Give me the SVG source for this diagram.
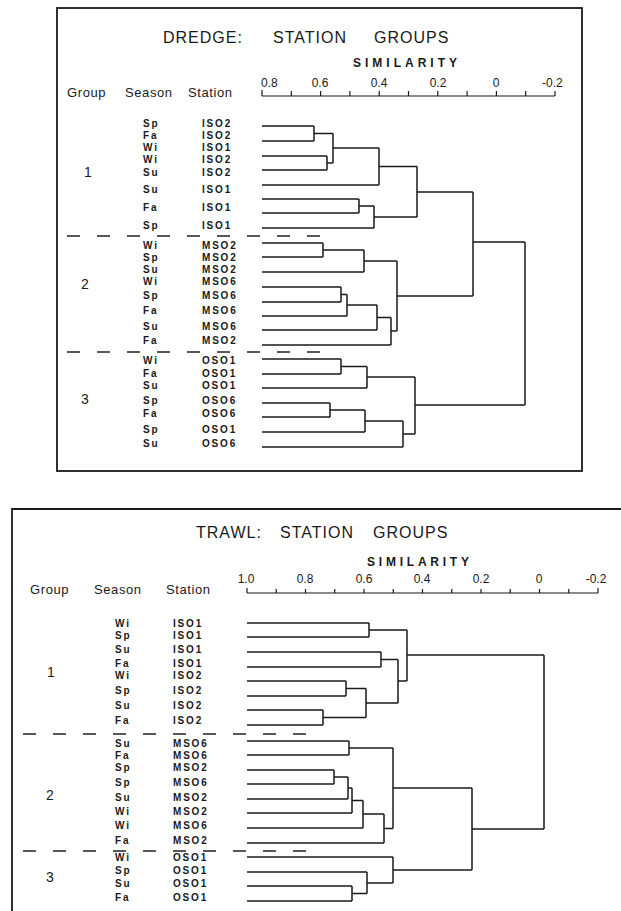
<svg xmlns="http://www.w3.org/2000/svg" width="621" height="911" viewBox="0 0 621 911">
<style>
.t{font-family:"Liberation Sans",Arial,sans-serif;fill:#1a1a1a}
.title{font-size:16px;letter-spacing:1px}
.sim{font-size:12px;font-weight:bold}
.ax{font-size:12px}
.hd{font-size:13px;letter-spacing:0.6px}
.rl{font-size:10px;font-weight:bold;letter-spacing:1.8px}
.gn{font-size:14px}
.ln{stroke:#1a1a1a;stroke-width:1.5;fill:none}
.tk{stroke:#1a1a1a;stroke-width:1.2;fill:none}
.dash{stroke:#222;stroke-width:1.3;stroke-dasharray:13 17;fill:none}
.frame{stroke:#1a1a1a;stroke-width:1.8;fill:none}
</style>
<rect width="621" height="911" fill="#fff"/>

<!-- ================= DREDGE PANEL ================= -->
<g id="dredge-panel">
<rect class="frame" x="57" y="8" width="525" height="463"/>
<text class="t title" y="43"><tspan x="163">DREDGE:</tspan><tspan x="273">STATION</tspan><tspan x="374">GROUPS</tspan></text>
<text class="t sim" x="353" y="67" textLength="104" lengthAdjust="spacing">SIMILARITY</text>
<g id="dredge-axis">
<path class="tk" d="M262 96H555M262 96V90M291.3 96V91M320.6 96V91M349.9 96V91M379.2 96V91M408.5 96V91M437.8 96V91M467.1 96V91M496.4 96V91M525.7 96V91M555 96V91"/>
<text class="t ax" x="261" y="87">0.8</text>
<text class="t ax" x="320" y="87" text-anchor="middle">0.6</text>
<text class="t ax" x="379" y="87" text-anchor="middle">0.4</text>
<text class="t ax" x="438" y="87" text-anchor="middle">0.2</text>
<text class="t ax" x="496" y="87" text-anchor="middle">0</text>
<text class="t ax" x="542" y="87">-0.2</text>
</g>
<text class="t hd" x="67" y="97">Group</text>
<text class="t hd" x="125" y="97">Season</text>
<text class="t hd" x="188" y="97">Station</text>

<text class="t gn" x="84" y="177">1</text>
<text class="t gn" x="81" y="289">2</text>
<text class="t gn" x="81" y="404">3</text>

<path class="dash" d="M67 236H321M67 352H321"/>

<g id="d-r1"><text class="t rl" x="143" y="127">Sp</text><text class="t rl" x="202" y="127">ISO2</text></g>
<g id="d-r2"><text class="t rl" x="143" y="139">Fa</text><text class="t rl" x="202" y="139">ISO2</text></g>
<g id="d-r3"><text class="t rl" x="143" y="151">Wi</text><text class="t rl" x="202" y="151">ISO1</text></g>
<g id="d-r4"><text class="t rl" x="143" y="163">Wi</text><text class="t rl" x="202" y="163">ISO2</text></g>
<g id="d-r5"><text class="t rl" x="143" y="176">Su</text><text class="t rl" x="202" y="176">ISO2</text></g>
<g id="d-r6"><text class="t rl" x="143" y="193">Su</text><text class="t rl" x="202" y="193">ISO1</text></g>
<g id="d-r7"><text class="t rl" x="143" y="211">Fa</text><text class="t rl" x="202" y="211">ISO1</text></g>
<g id="d-r8"><text class="t rl" x="143" y="229">Sp</text><text class="t rl" x="202" y="229">ISO1</text></g>

<g id="d-r9"><text class="t rl" x="143" y="249">Wi</text><text class="t rl" x="202" y="249">MSO2</text></g>
<g id="d-r10"><text class="t rl" x="143" y="261">Sp</text><text class="t rl" x="202" y="261">MSO2</text></g>
<g id="d-r11"><text class="t rl" x="143" y="273">Su</text><text class="t rl" x="202" y="273">MSO2</text></g>
<g id="d-r12"><text class="t rl" x="143" y="285">Wi</text><text class="t rl" x="202" y="285">MSO6</text></g>
<g id="d-r13"><text class="t rl" x="143" y="299">Sp</text><text class="t rl" x="202" y="299">MSO6</text></g>
<g id="d-r14"><text class="t rl" x="143" y="314">Fa</text><text class="t rl" x="202" y="314">MSO6</text></g>
<g id="d-r15"><text class="t rl" x="143" y="330">Su</text><text class="t rl" x="202" y="330">MSO6</text></g>
<g id="d-r16"><text class="t rl" x="143" y="344">Fa</text><text class="t rl" x="202" y="344">MSO2</text></g>

<g id="d-r17"><text class="t rl" x="143" y="364">Wi</text><text class="t rl" x="202" y="364">OSO1</text></g>
<g id="d-r18"><text class="t rl" x="143" y="377">Fa</text><text class="t rl" x="202" y="377">OSO1</text></g>
<g id="d-r19"><text class="t rl" x="143" y="389">Su</text><text class="t rl" x="202" y="389">OSO1</text></g>
<g id="d-r20"><text class="t rl" x="143" y="404">Sp</text><text class="t rl" x="202" y="404">OSO6</text></g>
<g id="d-r21"><text class="t rl" x="143" y="417">Fa</text><text class="t rl" x="202" y="417">OSO6</text></g>
<g id="d-r22"><text class="t rl" x="143" y="433">Sp</text><text class="t rl" x="202" y="433">OSO1</text></g>
<g id="d-r23"><text class="t rl" x="143" y="447">Su</text><text class="t rl" x="202" y="447">OSO6</text></g>
</g>

<g id="dredge-connectors">
<path class="ln" d="M262 126H314M262 141H314M262 156H327M262 170H327M262 185H379M262 199H359M262 213H359M262 228H374M262 243H323M262 257H323M262 272H364M262 287H341M262 302H341M262 316H347M262 330H377M262 345H391M262 359H341M262 374H341M262 388H367M262 403H330M262 417H330M262 432H365M262 447H403"/>
<path class="ln" d="M314 126V141M314 133.5H333M327 156V170M327 163H333M333 133.5V163M333 148H379M379 148V185M379 166.5H417M359 199V213M359 206H374M374 206V228M374 217H417M417 166.5V217M417 192H473"/>
<path class="ln" d="M323 243V257M323 250H364M364 250V272M364 261H397M341 287V302M341 294.5H347M347 294.5V316M347 305H377M377 305V330M377 317.5H391M391 317.5V345M391 331H397M397 261V331M397 296H473M473 192V296M473 242H525"/>
<path class="ln" d="M341 359V374M341 366.5H367M367 366.5V388M367 377H415M330 403V417M330 410H365M365 410V432M365 421H403M403 421V447M403 434H415M415 377V434M415 405H525M525 242V405"/>
</g>

<!-- ================= TRAWL PANEL ================= -->
<g id="trawl-panel">
<path class="frame" d="M12 911V509H621"/>
<text class="t title" y="538"><tspan x="196">TRAWL:</tspan><tspan x="280">STATION</tspan><tspan x="373">GROUPS</tspan></text>
<text class="t sim" x="367" y="566" textLength="102" lengthAdjust="spacing">SIMILARITY</text>
<g id="trawl-axis">
<path class="tk" d="M247 593H598M247 593V588M276.25 593V589M305.5 593V589M334.75 593V589M364 593V589M393.25 593V589M422.5 593V589M451.75 593V589M481 593V589M510.25 593V589M539.5 593V589M568.75 593V589M598 593V588"/>
<text class="t ax" x="246" y="583" text-anchor="middle">1.0</text>
<text class="t ax" x="305" y="583" text-anchor="middle">0.8</text>
<text class="t ax" x="364" y="583" text-anchor="middle">0.6</text>
<text class="t ax" x="422" y="583" text-anchor="middle">0.4</text>
<text class="t ax" x="481" y="583" text-anchor="middle">0.2</text>
<text class="t ax" x="539" y="583" text-anchor="middle">0</text>
<text class="t ax" x="596" y="583" text-anchor="middle">-0.2</text>
</g>
<text class="t hd" x="30" y="594">Group</text>
<text class="t hd" x="94" y="594">Season</text>
<text class="t hd" x="166" y="594">Station</text>

<text class="t gn" x="47" y="677">1</text>
<text class="t gn" x="46" y="800">2</text>
<text class="t gn" x="46" y="882">3</text>

<path class="dash" d="M23 734H308M23 851H308"/>

<g id="t-r1"><text class="t rl" x="115" y="627">Wi</text><text class="t rl" x="173" y="627">ISO1</text></g>
<g id="t-r2"><text class="t rl" x="115" y="639">Sp</text><text class="t rl" x="173" y="639">ISO1</text></g>
<g id="t-r3"><text class="t rl" x="115" y="653">Su</text><text class="t rl" x="173" y="653">ISO1</text></g>
<g id="t-r4"><text class="t rl" x="115" y="667">Fa</text><text class="t rl" x="173" y="667">ISO1</text></g>
<g id="t-r5"><text class="t rl" x="115" y="679">Wi</text><text class="t rl" x="173" y="679">ISO2</text></g>
<g id="t-r6"><text class="t rl" x="115" y="694">Sp</text><text class="t rl" x="173" y="694">ISO2</text></g>
<g id="t-r7"><text class="t rl" x="115" y="709">Su</text><text class="t rl" x="173" y="709">ISO2</text></g>
<g id="t-r8"><text class="t rl" x="115" y="724">Fa</text><text class="t rl" x="173" y="724">ISO2</text></g>

<g id="t-r9"><text class="t rl" x="115" y="747">Su</text><text class="t rl" x="173" y="747">MSO6</text></g>
<g id="t-r10"><text class="t rl" x="115" y="759">Fa</text><text class="t rl" x="173" y="759">MSO6</text></g>
<g id="t-r11"><text class="t rl" x="115" y="771">Sp</text><text class="t rl" x="173" y="771">MSO2</text></g>
<g id="t-r12"><text class="t rl" x="115" y="786">Sp</text><text class="t rl" x="173" y="786">MSO6</text></g>
<g id="t-r13"><text class="t rl" x="115" y="801">Su</text><text class="t rl" x="173" y="801">MSO2</text></g>
<g id="t-r14"><text class="t rl" x="115" y="815">Wi</text><text class="t rl" x="173" y="815">MSO2</text></g>
<g id="t-r15"><text class="t rl" x="115" y="829">Wi</text><text class="t rl" x="173" y="829">MSO6</text></g>
<g id="t-r16"><text class="t rl" x="115" y="844">Fa</text><text class="t rl" x="173" y="844">MSO2</text></g>

<g id="t-r17"><text class="t rl" x="115" y="861">Wi</text><text class="t rl" x="173" y="861">OSO1</text></g>
<g id="t-r18"><text class="t rl" x="115" y="874">Sp</text><text class="t rl" x="173" y="874">OSO1</text></g>
<g id="t-r19"><text class="t rl" x="115" y="887">Su</text><text class="t rl" x="173" y="887">OSO1</text></g>
<g id="t-r20"><text class="t rl" x="115" y="901">Fa</text><text class="t rl" x="173" y="901">OSO1</text></g>
</g>

<g id="trawl-connectors">
<path class="ln" d="M247 623H369M247 637H369M247 652H381M247 667H381M247 681H346M247 696H346M247 710H323M247 725H323M247 741H349M247 755H349M247 770H334M247 784H334M247 799H348M247 813H352M247 828H363M247 843H384M247 857H393M247 872H367M247 886H352M247 901H352"/>
<path class="ln" d="M369 623V637M369 630H407M381 652V667M381 659.5H398M346 681V696M346 688.5H366M323 710V725M323 717.5H366M366 688.5V717.5M366 703H398M398 659.5V703M398 681H407M407 630V681M407 655H544"/>
<path class="ln" d="M349 741V755M349 748H393M334 770V784M334 777H348M348 777V799M348 788H352M352 788V813M352 800.5H363M363 800.5V828M363 814H384M384 814V843M384 828.5H393M393 748V828.5M393 788H472"/>
<path class="ln" d="M352 886V901M352 893.5H367M367 872V893.5M367 883H393M393 857V883M393 870H472M472 788V870M472 829H544M544 655V829"/>
</g>
</svg>
